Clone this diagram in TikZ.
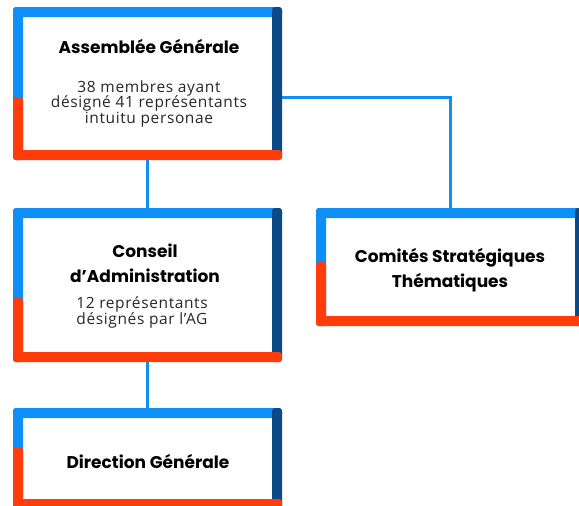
\documentclass[tikz,border=0pt]{standalone}
\usepackage{fontspec}
\setmainfont{Open Sans}[LetterSpace=4]
\newfontfamily\titlefont{Poppins}
\usetikzlibrary{calc}
\definecolor{cblue}{HTML}{0E8FF5}
\definecolor{cdark}{HTML}{0B4A86}
\definecolor{corange}{HTML}{FF3C0A}
\newcommand\orgframe[2]{%
  \fill[cblue,rounded corners=3pt] (#1.north west) rectangle ($(#1.north east)+(0,10)$);
  \fill[cblue,rounded corners=3pt] (#1.north west) rectangle ($(#1.south west)+(10,0)$);
  \fill[cdark,rounded corners=3pt] ($(#1.north east)+(-10,0)$) rectangle (#1.south east);
  \fill[corange,rounded corners=3pt] ($(#1.north west)+(0,#2)$) rectangle ($(#1.south west)+(10,0)$);
  \fill[corange,rounded corners=3pt] ($(#1.south west)+(0,-10)$) rectangle (#1.south east);
}
\tikzset{
  boxarea/.style={inner sep=0pt, outer sep=0pt, minimum width=269pt},
  ttl/.style={anchor=base, inner sep=0pt, font=\titlefont\bfseries\fontsize{17}{20}\selectfont},
  bdy/.style={anchor=base, inner sep=0pt, font=\fontsize{15.5}{16}\selectfont, text=black!85},
  link/.style={draw=cblue, line width=3pt}
}
\begin{document}
\begin{tikzpicture}[x=1pt,y=-1pt]
\useasboundingbox (0,0) rectangle (579,506);
\clip (0,0) rectangle (579,506);
\node[boxarea, minimum height=153pt] (ag) at (147.5,83.5) {};
\node[boxarea, minimum height=154pt] (ca) at (147.5,285) {};
\node[boxarea, minimum height=118pt] (cst) at (450.5,267) {};
\node[boxarea, minimum height=101pt] (dg) at (147.5,458.5) {};
\coordinate (agr) at (282,97);
\draw[link] (ag.south) -- (ca.north);
\draw[link] (ca.south) -- (dg.north);
\draw[link] (agr) -| (cst.north);
\orgframe{ag}{90}
\orgframe{ca}{90}
\orgframe{cst}{54}
\orgframe{dg}{39}
\node[ttl] (t1) at (149,53) {Assemblée Générale};
\node[bdy] (b1a) at (149,92) {38 membres ayant};
\node[bdy] (b1b) at (149,107.5) {désigné 41 représentants};
\node[bdy] (b1c) at (149,123) {intuitu personae};
\node[ttl] (t2a) at (145,257) {Conseil};
\node[ttl] (t2b) at (145,282) {d’Administration};
\node[bdy] (b2a) at (142,308) {12 représentants};
\node[bdy] (b2b) at (142,324) {désignés par l’AG};
\node[ttl] (t3a) at (450,262) {Comités Stratégiques};
\node[ttl] (t3b) at (450,287) {Thématiques};
\node[ttl] (t4) at (148,468) {Direction Générale};
\end{tikzpicture}
\end{document}
